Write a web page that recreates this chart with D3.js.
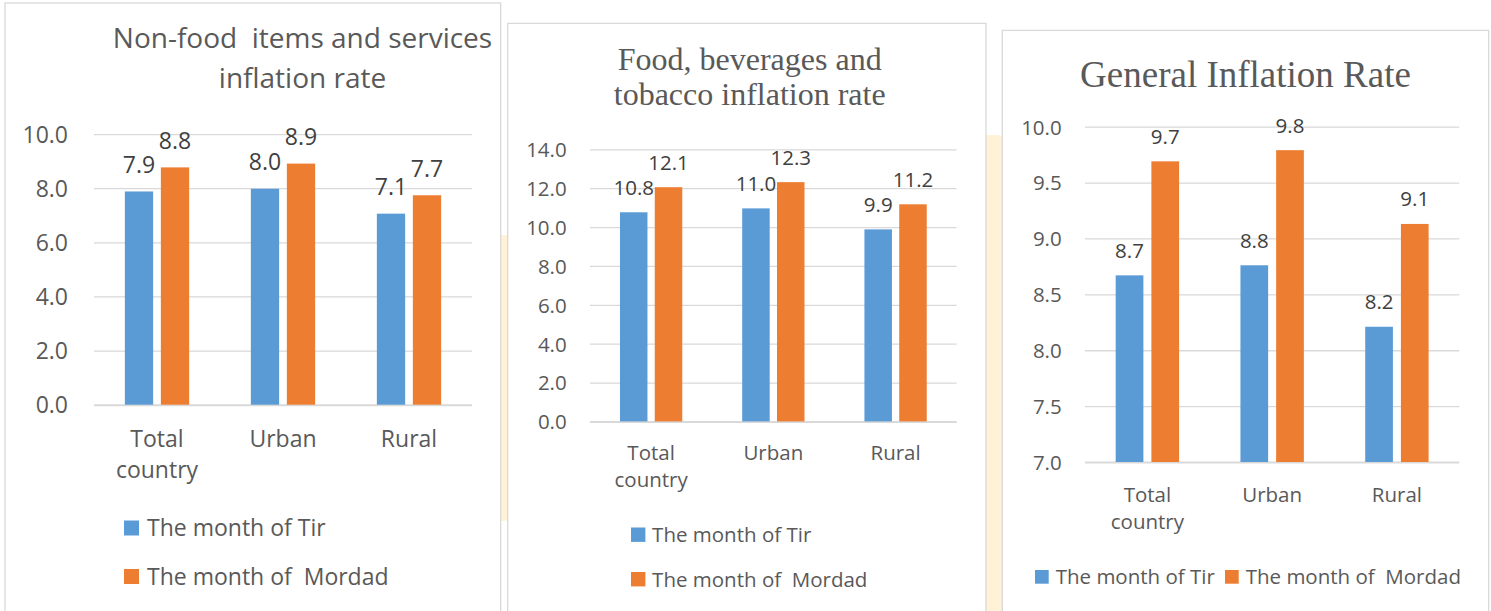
<!DOCTYPE html>
<html>
<head>
<meta charset="utf-8">
<script src="https://cdn.jsdelivr.net/npm/d3@7"></script>
<style>
  body { margin: 0; background: #fff; }
  svg text { white-space: pre; }
</style>
</head>
<body>
<div id="chart"></div>
<script>
// --- data ---------------------------------------------------------------
const categories = ['Total country', 'Urban', 'Rural'];
const seriesNames = ['The month of Tir', 'The month of  Mordad'];

// Non-food items and services
const nonFoodTitle = ['Non-food  items and services', 'inflation rate'];
const nonFoodTir = [7.88, 7.98, 7.06];
const nonFoodMordad = [8.77, 8.91, 7.74];
const nonFoodTicks = [0, 2, 4, 6, 8, 10];

// Food, beverages and tobacco
const foodTitle = ['Food, beverages and', 'tobacco inflation rate'];
const foodTir = [10.76, 10.96, 9.88];
const foodMordad = [12.05, 12.31, 11.17];
const foodTicks = [0, 2, 4, 6, 8, 10, 12, 14];

// General
const generalTitle = ['General Inflation Rate'];
const generalTir = [8.67, 8.76, 8.21];
const generalMordad = [9.69, 9.79, 9.13];
const generalTicks = [7, 7.5, 8, 8.5, 9, 9.5, 10];

// --- style --------------------------------------------------------------
const COLORS = {
  tir: '#5B9BD5',
  mordad: '#ED7D31',
  grid: '#D9D9D9',
  text: '#595959',
  label: '#404040',
  frame: '#D9D9D9',
  blob: '#FFF2D6'
};
const SANS = '"Open Sans", "Noto Sans", sans-serif';
const SERIF = '"Liberation Serif", "DejaVu Serif", serif';
const fmt = d3.format('.1f');

// panel layouts (pixels)
const panels = [
  {
    title: nonFoodTitle, tir: nonFoodTir, mordad: nonFoodMordad, ticks: nonFoodTicks, domain: [0, 10],
    frame: { x: 5, y: 3, w: 495.7, h: 700 },
    titleFont: SANS, titleSize: 28, titleX: 302.5, titleBase: [48, 88],
    left: 94, right: 472, top: 134.1, bottom: 404.7,
    bar: 28.3, gap: 7.7, fs: 23, labelOff: 27, tickPad: 26,
    catBase: 447, catLine: 31.5,
    legend: [{ x: 124, y: 520.5 }, { x: 124, y: 569 }], sq: 15, sqGap: 8
  },
  {
    title: foodTitle, tir: foodTir, mordad: foodMordad, ticks: foodTicks, domain: [0, 14],
    frame: { x: 507.7, y: 23.4, w: 478.3, h: 700 },
    titleFont: SERIF, titleSize: 32, titleX: 749.7, titleBase: [69.5, 104.5],
    left: 590, right: 956.7, top: 149.3, bottom: 421.4,
    bar: 27.5, gap: 7.3, fs: 20.5, labelOff: 25, tickPad: 23.3,
    catBase: 459.6, catLine: 27.7,
    legend: [{ x: 631, y: 527.5 }, { x: 631, y: 572 }], sq: 14.4, sqGap: 6.7
  },
  {
    title: generalTitle, tir: generalTir, mordad: generalMordad, ticks: generalTicks, domain: [7, 10],
    frame: { x: 1002.3, y: 30.4, w: 486.4, h: 700 },
    titleFont: SERIF, titleSize: 37, titleX: 1245.5, titleBase: [86.5],
    left: 1085, right: 1459.3, top: 126.7, bottom: 462,
    bar: 27.7, gap: 8, fs: 20.5, labelOff: 25, tickPad: 23.3,
    catBase: 501.7, catLine: 27.7,
    legend: [{ x: 1035, y: 570 }, { x: 1225, y: 570 }], sq: 13.7, sqGap: 7
  }
];

const W = 1491, H = 611;
const svg = d3.select('#chart').append('svg')
  .attr('width', W)
  .attr('height', H)
  .style('display', 'block');

svg.append('rect').attr('width', W).attr('height', H).attr('fill', '#fff');

// pale yellow shapes peeking out between the panels
svg.append('rect').attr('x', 470).attr('y', 235).attr('width', 60).attr('height', 286)
  .attr('rx', 28).attr('fill', COLORS.blob);
svg.append('rect').attr('x', 955).attr('y', 135).attr('width', 70).attr('height', 560)
  .attr('rx', 30).attr('fill', COLORS.blob);

function renderPanel(p) {
  const g = svg.append('g');

  g.append('rect')
    .attr('x', p.frame.x).attr('y', p.frame.y)
    .attr('width', p.frame.w).attr('height', p.frame.h)
    .attr('fill', '#fff')
    .attr('stroke', COLORS.frame)
    .attr('stroke-width', 1.3);

  // title
  const title = g.append('text')
    .attr('text-anchor', 'middle')
    .attr('fill', COLORS.text)
    .attr('font-family', p.titleFont)
    .attr('font-size', p.titleSize);
  p.title.forEach((t, i) => {
    title.append('tspan').attr('x', p.titleX).attr('y', p.titleBase[i]).text(t);
  });

  const x0 = d3.scaleBand().domain(categories).range([p.left, p.right]);
  const groupW = 2 * p.bar + p.gap;
  const x1 = d3.scaleBand().domain(seriesNames).range([0, groupW])
    .paddingInner(p.gap / (p.bar + p.gap));
  const y = d3.scaleLinear().domain(p.domain).range([p.bottom, p.top]);
  const color = d3.scaleOrdinal().domain(seriesNames).range([COLORS.tir, COLORS.mordad]);

  // grid + y labels
  const yAxis = g.append('g')
    .attr('transform', `translate(${p.left},0)`)
    .call(d3.axisLeft(y).tickValues(p.ticks).tickSize(-(p.right - p.left))
      .tickPadding(p.tickPad).tickFormat(fmt));
  yAxis.select('.domain').remove();
  yAxis.selectAll('.tick line')
    .attr('stroke', COLORS.grid)
    .attr('stroke-width', d => d === p.domain[0] ? 2 : 1.3);
  yAxis.selectAll('.tick text')
    .attr('fill', COLORS.text)
    .attr('font-family', SANS)
    .attr('font-size', p.fs)
    .attr('dy', '0.36em');

  // category labels
  const xAxis = g.append('g')
    .attr('transform', `translate(0,${p.bottom})`)
    .call(d3.axisBottom(x0).tickSize(0));
  xAxis.select('.domain').remove();
  xAxis.selectAll('.tick text')
    .attr('fill', COLORS.text)
    .attr('font-family', SANS)
    .attr('font-size', p.fs)
    .attr('dy', null)
    .attr('y', null)
    .text(null)
    .each(function (d) {
      const words = d.split(' ');
      words.forEach((w, i) => {
        d3.select(this).append('tspan')
          .attr('x', 0)
          .attr('y', p.catBase - p.bottom + i * p.catLine)
          .text(w);
      });
    });

  const rows = categories.map((c, i) => ({
    cat: c,
    values: [
      { s: seriesNames[0], v: p.tir[i] },
      { s: seriesNames[1], v: p.mordad[i] }
    ]
  }));

  const groups = g.selectAll('.grp')
    .data(rows)
    .join('g')
    .attr('class', 'grp')
    .attr('transform', d => `translate(${x0(d.cat) + x0.bandwidth() / 2 - groupW / 2},0)`);

  groups.selectAll('rect')
    .data(d => d.values)
    .join('rect')
    .attr('x', d => x1(d.s))
    .attr('y', d => y(d.v))
    .attr('width', x1.bandwidth())
    .attr('height', d => y(p.domain[0]) - y(d.v))
    .attr('fill', d => color(d.s));

  groups.selectAll('text')
    .data(d => d.values)
    .join('text')
    .attr('x', d => x1(d.s) + x1.bandwidth() / 2)
    .attr('y', d => y(d.v) - p.labelOff + 0.36 * p.fs)
    .attr('text-anchor', 'middle')
    .attr('fill', COLORS.label)
    .attr('font-family', SANS)
    .attr('font-size', p.fs)
    .text(d => fmt(d.v));

  // legend
  const leg = g.selectAll('.leg')
    .data(seriesNames)
    .join('g')
    .attr('class', 'leg')
    .attr('transform', (d, i) => `translate(${p.legend[i].x},${p.legend[i].y})`);
  leg.append('rect')
    .attr('width', p.sq).attr('height', p.sq)
    .attr('fill', d => color(d));
  leg.append('text')
    .attr('x', p.sq + p.sqGap)
    .attr('y', p.sq / 2 + 0.36 * p.fs)
    .attr('fill', COLORS.text)
    .attr('font-family', SANS)
    .attr('font-size', p.fs)
    .text(d => d);
}

panels.forEach(renderPanel);
</script>
</body>
</html>
